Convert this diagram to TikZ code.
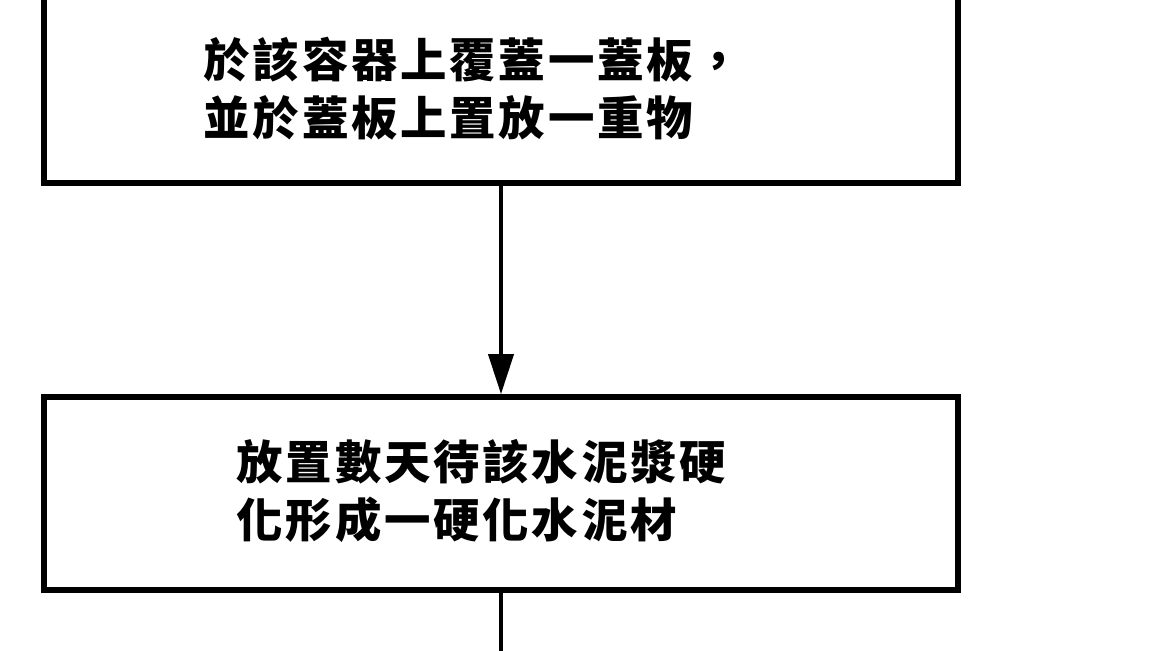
\documentclass[tikz,border=0pt]{standalone}
\usepackage{fontspec}
\newfontfamily\cjk[LetterSpace=6]{Noto Sans CJK TC}
\usetikzlibrary{positioning, arrows.meta}

\begin{document}
\begin{tikzpicture}[x = 0.01cm, y = -0.01cm,
    stepbox/.style = { draw, line width = 1.6pt, minimum width = 9.14cm, minimum height = 1.93cm, inner sep = 0pt },
    steptext/.style = { anchor = west, align = left, inner sep = 0pt, font = \cjk\bfseries\fontsize{13.2}{16.5}\selectfont },
    flow/.style = { line width = 1.1pt }]
  \useasboundingbox (0,0) rectangle (1170,650);
  \clip (0,0) rectangle (1170,650);
  \node [stepbox] (cover) at (501, 86.5) {};
  \node [stepbox] (harden) at (501, 493.5) {};
  \node [steptext] (covertext) at (203, 89) {於該容器上覆蓋一蓋板，\\並於蓋板上置放一重物};
  \node [steptext] (hardentext) at (236, 491) {放置數天待該水泥漿硬\\化形成一硬化水泥材};
  \coordinate (next) at (501, 670);
  \draw [flow, -{Triangle[length = 0.4cm, width = 0.25cm]}] (cover) -- (harden);
  \draw [flow] (harden) -- (next);
\end{tikzpicture}
\end{document}
